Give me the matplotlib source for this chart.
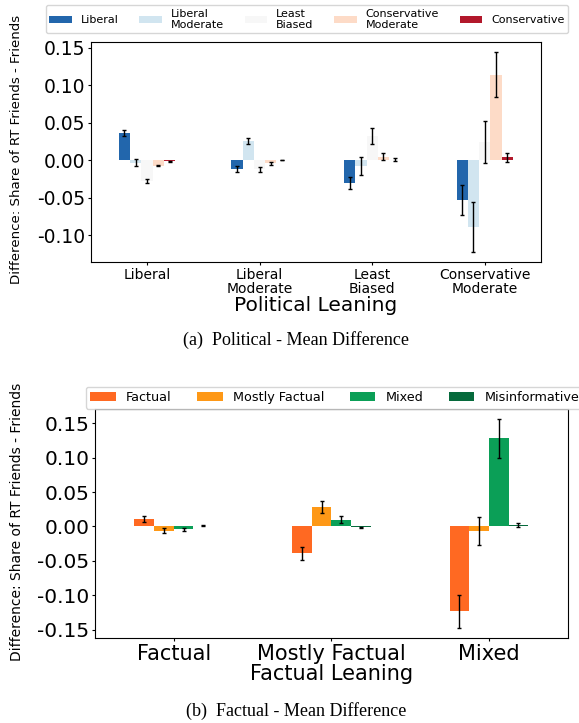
import numpy as np
import matplotlib
matplotlib.use('Agg')
import matplotlib.pyplot as plt
from matplotlib.ticker import MultipleLocator, FormatStrFormatter

plt.rcParams['font.family'] = 'DejaVu Sans'
plt.rcParams['axes.unicode_minus'] = True

# ---------------------------------------------------------------------------
# data: (a) political leaning
# ---------------------------------------------------------------------------
pol_groups = ['Liberal', 'Liberal\nModerate', 'Least\nBiased', 'Conservative\nModerate']
pol_series = ['Liberal', 'Liberal\nModerate', 'Least\nBiased',
              'Conservative\nModerate', 'Conservative']
pol_colors = ['#2266ac', '#d1e5f0', '#f7f7f7', '#fddbc7', '#b2182b']

pol_liberal = [0.037, -0.012, -0.030, -0.053]
pol_lib_mod = [-0.003, 0.026, -0.008, -0.089]
pol_least = [-0.028, -0.012, 0.033, 0.025]
pol_con_mod = [-0.007, -0.004, 0.005, 0.114]
pol_con = [-0.001, 0.0005, 0.001, 0.004]

err_liberal = [0.004, 0.004, 0.0085, 0.020]
err_lib_mod = [0.0045, 0.0045, 0.012, 0.033]
err_least = [0.0027, 0.003, 0.0105, 0.028]
err_con_mod = [0.001, 0.0015, 0.0047, 0.030]
err_con = [0.0005, 0.0005, 0.002, 0.006]

# ---------------------------------------------------------------------------
# data: (b) factual leaning
# ---------------------------------------------------------------------------
fac_groups = ['Factual', 'Mostly Factual', 'Mixed']
fac_series = ['Factual', 'Mostly Factual', 'Mixed', 'Misinformative']
fac_colors = ['#ff6922', '#fe9816', '#0b9f57', '#066a3c']

fac_factual = [0.011, -0.039, -0.123]
fac_mostly = [-0.006, 0.028, -0.0068]
fac_mixed = [-0.004, 0.010, 0.128]
fac_misinfo = [0.001, -0.001, 0.0025]

err_factual = [0.004, 0.009, 0.024]
err_mostly = [0.004, 0.0087, 0.0205]
err_mixed = [0.002, 0.005, 0.0277]
err_misinfo = [0.0005, 0.0005, 0.003]

W, H = 579, 723


def grouped_bars(ax, groups, series, values, errors, colors):
    n = len(series)
    w = 0.5 / n
    x = np.arange(len(groups))
    for j, (name, vals, errs, col) in enumerate(zip(series, values, errors, colors)):
        ax.bar(x + (j - (n - 1) / 2) * w, vals, w, yerr=errs, color=col, label=name,
               error_kw=dict(ecolor='black', elinewidth=1.0, capsize=1.3, capthick=1.0))
    ax.set_xticks(x)
    ax.set_xlim(-0.5, len(groups) - 0.5)
    ax.yaxis.set_major_locator(MultipleLocator(0.05))
    ax.yaxis.set_major_formatter(FormatStrFormatter('%.2f'))
    ax.tick_params(axis='both', length=2.5, width=0.8, pad=1.5)


fig = plt.figure(figsize=(W / 100, H / 100), dpi=100)

# ── (a) ──
ax1 = fig.add_axes([90.7 / W, 1 - 262 / H, 450.3 / W, 219.7 / H])
grouped_bars(ax1, pol_groups, pol_series,
             [pol_liberal, pol_lib_mod, pol_least, pol_con_mod, pol_con],
             [err_liberal, err_lib_mod, err_least, err_con_mod, err_con],
             pol_colors)
ax1.set_xticklabels(pol_groups, fontsize=10, linespacing=1.0)
ax1.tick_params(axis='y', labelsize=13.5)
ax1.set_xlabel('Political Leaning', fontsize=14.5, labelpad=0)
ax1.legend(loc='upper left', bbox_to_anchor=(46 / W, 1 - 5.2 / H),
           bbox_transform=fig.transFigure, ncol=5, fontsize=8.0,
           borderaxespad=0, borderpad=0.3, labelspacing=0.2,
           columnspacing=1.9)
fig.text(17 / W, 1 - 149 / H, 'Difference: Share of RT Friends - Friends',
         rotation=90, ha='center', va='center', fontsize=9.6)
fig.text(296 / W, 1 - 340 / H, '(a)  Political - Mean Difference',
         ha='center', va='center', fontsize=13, family='Liberation Serif')

# ── (b) ──
ax2 = fig.add_axes([95 / W, 1 - 638 / H, 472.7 / W, 229 / H])
grouped_bars(ax2, fac_groups, fac_series,
             [fac_factual, fac_mostly, fac_mixed, fac_misinfo],
             [err_factual, err_mostly, err_mixed, err_misinfo],
             fac_colors)
ax2.set_xticklabels(fac_groups, fontsize=15)
ax2.tick_params(axis='y', labelsize=14.5)
ax2.set_xlabel('Factual Leaning', fontsize=15, labelpad=0)
ax2.legend(loc='upper left', bbox_to_anchor=(85.7 / W, 1 - 386.7 / H),
           bbox_transform=fig.transFigure, ncol=4, fontsize=9.2,
           borderaxespad=0, borderpad=0.35)
fig.text(17 / W, 1 - 521.5 / H, 'Difference: Share of RT Friends - Friends',
         rotation=90, ha='center', va='center', fontsize=10)
fig.text(296 / W, 1 - 711 / H, '(b)  Factual - Mean Difference',
         ha='center', va='center', fontsize=13, family='Liberation Serif')

fig.savefig('out.png', dpi=100)
